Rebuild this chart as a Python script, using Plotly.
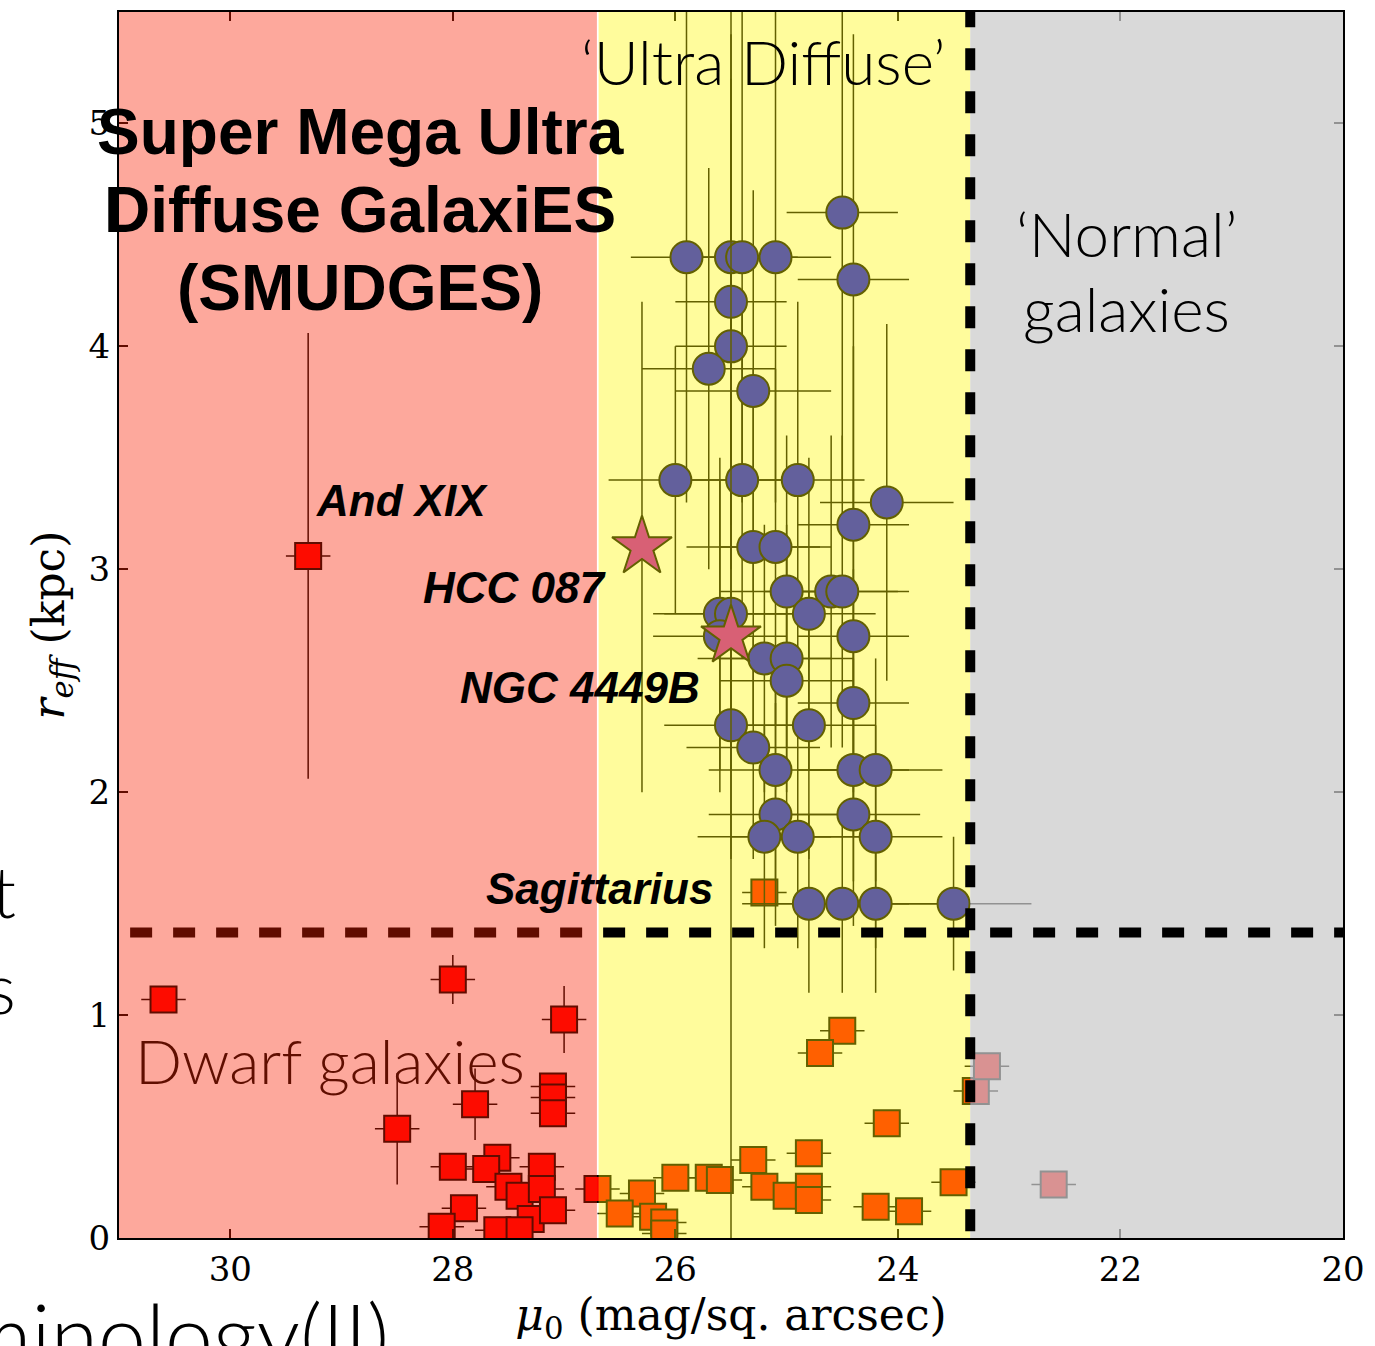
import plotly.graph_objects as go

# ---------------- data ----------------
# SMUDGES / UDG candidates (blue circles)
udg_mu = [24.5, 25.9, 25.5, 25.4, 25.1, 24.4, 25.5, 25.5, 25.7, 25.3,
          26.0, 25.4, 24.9, 24.1, 24.4, 25.3, 25.1, 25.0, 24.6, 24.5,
          24.8, 25.6, 25.5, 25.6, 24.4, 25.2, 25.0, 25.0, 24.4, 25.5,
          24.8, 25.3, 25.1, 24.4, 24.2, 25.1, 24.4, 25.2, 24.9, 24.2,
          24.8, 24.5, 24.2, 23.5]
udg_r = [4.6, 4.4, 4.4, 4.4, 4.4, 4.3, 4.2, 4.0, 3.9, 3.8,
         3.4, 3.4, 3.4, 3.3, 3.2, 3.1, 3.1, 2.9, 2.9, 2.9,
         2.8, 2.8, 2.8, 2.7, 2.7, 2.6, 2.6, 2.5, 2.4, 2.3,
         2.3, 2.2, 2.1, 2.1, 2.1, 1.9, 1.9, 1.8, 1.8, 1.8,
         1.5, 1.5, 1.5, 1.5]
udg_mu_err = [0.5, 0.5, 0.5, 0.5, 0.5, 0.5, 0.5, 0.5, 0.6, 0.7,
              0.6, 0.6, 0.6, 0.6, 0.5, 0.6, 0.5, 0.6, 0.6, 0.6,
              0.6, 0.6, 0.6, 0.6, 0.5, 0.6, 0.6, 0.6, 0.5, 0.6,
              0.6, 0.6, 0.6, 0.5, 0.6, 0.6, 0.6, 0.6, 0.6, 0.6,
              0.6, 0.6, 0.6, 0.7]
udg_r_err = [1.2, 1.1, 1.2, 1.1, 1.1, 1.1, 1.0, 1.0, 0.9, 0.9,
             0.6, 0.8, 0.8, 0.8, 0.8, 0.8, 0.8, 0.7, 0.7, 0.7,
             0.7, 0.7, 0.7, 0.7, 0.7, 0.6, 0.6, 0.6, 0.6, 0.6,
             0.6, 0.5, 0.5, 0.5, 0.5, 0.5, 0.5, 0.5, 0.5, 0.5,
             0.4, 0.4, 0.4, 0.3]

# Local Group / nearby dwarf galaxies (squares)
dw_mu = [30.6, 29.3, 28.0, 27.0, 27.1, 27.1, 27.1, 27.8, 28.5, 28.0,
         27.6, 27.7, 27.2, 27.5, 27.4, 27.2, 27.3, 27.1, 27.9, 28.1,
         27.6, 27.4, 26.7, 25.2, 24.5, 24.7, 24.1, 23.5, 23.3, 23.2,
         22.6, 25.3, 24.8, 25.2, 25.0, 24.8, 24.8, 24.2, 23.9, 26.0,
         25.7, 25.6, 26.3, 26.5, 26.2, 26.1, 26.1]
dw_r = [1.07, 3.06, 1.16, 0.98, 0.68, 0.63, 0.56, 0.60, 0.49, 0.32,
        0.36, 0.31, 0.32, 0.23, 0.19, 0.22, 0.085, 0.125, 0.134, 0.05,
        0.035, 0.035, 0.22, 1.55, 0.93, 0.83, 0.515, 0.25, 0.66, 0.77,
        0.24, 0.35, 0.38, 0.23, 0.19, 0.23, 0.17, 0.14, 0.12, 0.27,
        0.27, 0.26, 0.20, 0.11, 0.095, 0.07, 0.02]
dw_mu_err = [0.2] * 47
dw_r_err = [0.05, 1.0, 0.11, 0.15, 0.05, 0.03, 0.03, 0.16, 0.25, 0.05,
            0.05, 0.05, 0.05, 0.05, 0.05, 0.05, 0.03, 0.03, 0.03, 0.03,
            0.03, 0.03, 0.05, 0.03, 0.03, 0.03, 0.03, 0.03, 0.03, 0.03,
            0.03, 0.03, 0.03, 0.03, 0.03, 0.03, 0.03, 0.03, 0.03, 0.03,
            0.03, 0.03, 0.03, 0.03, 0.03, 0.03, 0.03]

# Notable diffuse objects (stars)
star_names = ["HCC 087", "NGC 4449B"]
star_mu = [26.3, 25.5]
star_r = [3.1, 2.7]
star_r_err = [1.1, 2.7]

# Region boundaries
mu_red_edge = 26.7
mu_normal_edge = 23.35
r_udg_cut = 1.37

# ---------------- figure ----------------
fig = go.Figure()

fig.add_trace(go.Scatter(
    x=dw_mu, y=dw_r, mode="markers",
    error_x=dict(type="data", array=dw_mu_err, color="black", thickness=1.5, width=0),
    error_y=dict(type="data", array=dw_r_err, color="black", thickness=1.5, width=0),
    marker=dict(symbol="square", size=26, color="#ff0000",
                line=dict(color="black", width=2)),
    showlegend=False))

fig.add_trace(go.Scatter(
    x=udg_mu, y=udg_r, mode="markers",
    error_x=dict(type="data", array=udg_mu_err, color="black", thickness=1.5, width=0),
    error_y=dict(type="data", array=udg_r_err, color="black", thickness=1.5, width=0),
    marker=dict(symbol="circle", size=32, color="#0000ff",
                line=dict(color="black", width=2)),
    showlegend=False))

fig.add_trace(go.Scatter(
    x=star_mu, y=star_r, mode="markers",
    error_y=dict(type="data", array=star_r_err, color="black", thickness=1.5, width=0),
    marker=dict(symbol="star", size=45, color="#bf00bf",
                line=dict(color="black", width=2)),
    showlegend=False))

shapes = [
    dict(type="rect", xref="x", yref="y", x0=mu_red_edge - 0.01, x1=mu_normal_edge,
         y0=0, y1=5.52, fillcolor="rgba(255,246,0,0.39)", line_width=0, layer="above"),
    dict(type="rect", xref="x", yref="y", x0=mu_normal_edge, x1=20,
         y0=0, y1=5.52, fillcolor="rgba(203,203,203,0.72)", line_width=0, layer="above"),
    dict(type="line", xref="x", yref="y", x0=30.9, x1=20, y0=r_udg_cut, y1=r_udg_cut,
         line=dict(color="black", width=10, dash="22px,21px"), layer="above"),
    dict(type="line", xref="x", yref="y", x0=mu_normal_edge, x1=mu_normal_edge, y0=0.03, y1=5.5,
         line=dict(color="black", width=10, dash="22px,21px"), layer="above"),
    dict(type="rect", xref="x", yref="y", x0=31, x1=mu_red_edge + 0.005,
         y0=0, y1=5.52, fillcolor="rgba(250,30,0,0.39)", line_width=0, layer="above"),
]

serif = "DejaVu Serif"
bold = dict(family="Liberation Sans, Arial, sans-serif", color="black")
light = "Lato, Open Sans, sans-serif"

annotations = [
    dict(x=28.83, y=4.96, text="<b>Super Mega Ultra</b>", font=dict(size=64, **bold)),
    dict(x=28.83, y=4.61, text="<b>Diffuse GalaxiES</b>", font=dict(size=64, **bold)),
    dict(x=28.83, y=4.26, text="<b>(SMUDGES)</b>", font=dict(size=64, **bold)),
    dict(x=25.21, y=5.28, text="‘Ultra Diffuse’", font=dict(size=62, family=light, color="black", weight=300)),
    dict(x=21.95, y=4.51, text="‘Normal’", font=dict(size=62, family=light, color="black", weight=300)),
    dict(x=21.95, y=4.17, text="galaxies", font=dict(size=62, family=light, color="black", weight=300)),
    dict(x=29.10, y=0.80, text="Dwarf galaxies", font=dict(size=62, family=light, color="#600e00", weight=300)),
    dict(x=28.46, y=3.31, text="<b><i>And XIX</i></b>", font=dict(size=44, **bold)),
    dict(x=27.45, y=2.92, text="<b><i>HCC 087</i></b>", font=dict(size=44, **bold)),
    dict(x=26.86, y=2.47, text="<b><i>NGC 4449B</i></b>", font=dict(size=44, **bold)),
    dict(x=26.68, y=1.57, text="<b><i>Sagittarius</i></b>", font=dict(size=44, **bold)),
]
for a in annotations:
    a.update(xref="x", yref="y", showarrow=False, xanchor="center", yanchor="middle")

# fragments of surrounding slide text
slide_font = dict(family=light, size=70, color="black", weight=300)
annotations += [
    dict(xref="paper", yref="paper", x=-0.0825, y=0.283, text="t", xanchor="right", yanchor="middle",
         showarrow=False, font=slide_font),
    dict(xref="paper", yref="paper", x=-0.0825, y=0.205, text="s", xanchor="right", yanchor="middle",
         showarrow=False, font=slide_font),
    dict(xref="paper", yref="paper", x=0.222, y=-0.034, text="Terminology(II)", xanchor="right", yanchor="top",
         showarrow=False, font=dict(family=light, size=86, color="black", weight=300)),
]

axis_common = dict(showline=True, linecolor="black", linewidth=2, mirror="ticks",
                   ticks="inside", ticklen=9, tickwidth=1.5, tickcolor="black",
                   showgrid=False, zeroline=False,
                   tickfont=dict(family=serif, size=34, color="black"))

fig.update_layout(
    width=1375, height=1346,
    margin=dict(l=119, r=27, t=10, b=108),
    paper_bgcolor="white", plot_bgcolor="white",
    shapes=shapes, annotations=annotations,
    xaxis=dict(range=[31, 20], tickvals=[30, 28, 26, 24, 22, 20],
               title=dict(text="<i>μ</i><sub>0</sub> (mag/sq. arcsec)",
                          font=dict(family=serif, size=44, color="black"), standoff=6),
               **axis_common),
    yaxis=dict(range=[0, 5.5], tickvals=[0, 1, 2, 3, 4, 5],
               title=dict(text="<i>r</i><sub><i>eff</i></sub> (kpc)",
                          font=dict(family=serif, size=44, color="black"), standoff=10),
               **axis_common),
)

fig.write_html("out.html")
